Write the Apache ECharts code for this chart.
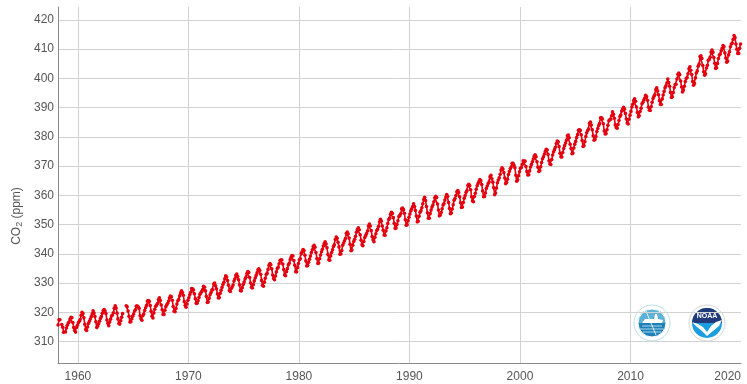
<!DOCTYPE html>
<html>
<head>
<meta charset="utf-8">
<script src="https://cdn.jsdelivr.net/npm/echarts@6/dist/echarts.min.js"></script>
<style>
  html, body { margin: 0; padding: 0; background: #fff; }
  #chart { width: 747px; height: 384px; }
</style>
</head>
<body>
<div id="chart"></div>
<script>
// Mauna Loa monthly mean CO2 (ppm), first value is March 1958; null = no data
const startYear = 1958;
const startMonth = 3;

const co2_1950s = [
  315.71, 317.45, 317.50, null, 315.86, 314.93, 313.20, null, 313.33, 314.67,
  315.62, 316.38, 316.71, 317.72, 318.29, 318.15, 316.54, 314.80, 313.84, 313.26, 314.80, 315.58
];
const co2_1960s = [
  316.43, 316.97, 317.58, 319.02, 320.03, 319.59, 318.18, 315.91, 314.16, 313.83, 315.00, 316.19,
  316.93, 317.70, 318.54, 319.48, 320.58, 319.77, 318.57, 316.79, 314.80, 315.38, 316.10, 317.01,
  317.94, 318.56, 319.68, 320.63, 321.01, 320.55, 319.58, 317.40, 316.26, 315.42, 316.69, 317.69,
  318.74, 319.08, 319.86, 321.39, 322.25, 321.47, 319.74, 317.77, 316.21, 315.99, 317.12, 318.31,
  319.57, null, null, null, 322.25, 321.89, 320.44, 318.70, 316.70, 316.79, 317.79, 318.71,
  319.44, 320.44, 320.89, 322.13, 322.16, 321.87, 321.39, 318.81, 317.81, 317.30, 318.87, 319.42,
  320.62, 321.59, 322.39, 323.87, 324.01, 323.75, 322.39, 320.37, 318.64, 318.10, 319.79, 321.08,
  322.07, 322.50, 323.04, 324.42, 325.00, 324.09, 322.55, 320.92, 319.31, 319.31, 320.72, 321.96,
  322.57, 323.15, 323.89, 325.02, 325.57, 325.36, 324.14, 322.03, 320.41, 320.25, 321.31, 322.84,
  324.00, 324.42, 325.64, 326.66, 327.34, 326.76, 325.88, 323.67, 322.38, 321.78, 322.85, 324.11
];
const co2_1970s = [
  325.03, 325.99, 326.87, 328.13, 328.07, 327.66, 326.35, 324.69, 323.10, 323.16, 323.98, 325.13,
  326.17, 326.68, 327.18, 327.78, 328.92, 328.57, 327.34, 325.46, 323.36, 323.57, 324.80, 326.01,
  326.77, 327.63, 327.75, 329.72, 330.07, 329.09, 328.05, 326.32, 324.93, 325.06, 326.50, 327.55,
  328.54, 329.56, 330.30, 331.50, 332.48, 332.07, 330.87, 329.31, 327.51, 327.18, 328.16, 328.64,
  329.35, 330.71, 331.48, 332.65, 333.09, 332.25, 331.18, 329.40, 327.43, 327.37, 328.46, 329.57,
  330.40, 331.40, 332.04, 333.31, 333.96, 333.59, 331.91, 330.06, 328.56, 328.34, 329.49, 330.76,
  331.75, 332.56, 333.50, 334.58, 334.87, 334.34, 333.05, 330.94, 329.30, 328.94, 330.31, 331.68,
  332.93, 333.42, 334.70, 336.07, 336.74, 336.27, 334.93, 332.75, 331.58, 331.16, 332.40, 333.85,
  334.97, 335.39, 336.64, 337.76, 338.01, 337.89, 336.54, 334.68, 332.76, 332.54, 333.92, 334.95,
  336.23, 336.76, 337.96, 338.89, 339.47, 339.29, 337.73, 336.09, 333.91, 333.86, 335.29, 336.73
];
const co2_1980s = [
  338.01, 338.36, 340.08, 340.77, 341.46, 341.17, 339.56, 337.60, 335.88, 336.01, 337.10, 338.21,
  339.24, 340.48, 341.38, 342.51, 342.91, 342.25, 340.49, 338.43, 336.69, 336.85, 338.36, 339.61,
  340.75, 341.61, 342.70, 343.56, 344.13, 343.35, 342.06, 339.82, 337.97, 337.86, 339.26, 340.49,
  341.38, 342.52, 343.10, 344.94, 345.75, 345.32, 343.99, 342.39, 339.86, 339.99, 341.16, 342.99,
  343.70, 344.50, 345.28, 347.06, 347.43, 346.80, 345.39, 343.28, 341.07, 341.35, 342.98, 344.22,
  344.97, 346.00, 347.43, 348.35, 348.93, 348.25, 346.56, 344.67, 343.09, 342.80, 344.24, 345.56,
  346.30, 346.95, 347.85, 349.55, 350.21, 349.55, 347.94, 345.91, 344.86, 344.17, 345.66, 346.90,
  348.02, 348.47, 349.42, 350.99, 351.84, 351.25, 349.52, 348.10, 346.44, 346.36, 347.81, 348.96,
  350.43, 351.72, 352.22, 353.59, 354.22, 353.79, 352.39, 350.44, 348.72, 348.88, 350.07, 351.34,
  352.76, 353.07, 353.68, 355.42, 355.67, 355.12, 353.90, 351.67, 349.80, 349.99, 351.30, 352.53
];
const co2_1990s = [
  353.66, 354.70, 355.39, 356.20, 357.16, 356.22, 354.82, 352.91, 350.96, 351.18, 352.83, 354.21,
  354.72, 355.75, 357.16, 358.60, 359.34, 358.24, 356.17, 354.03, 352.16, 352.21, 353.75, 354.99,
  355.99, 356.72, 357.81, 359.15, 359.66, 359.25, 357.02, 355.00, 353.01, 353.31, 354.16, 355.40,
  356.70, 357.17, 358.38, 359.46, 360.28, 359.60, 357.57, 355.52, 353.70, 353.98, 355.33, 356.80,
  358.36, 358.91, 359.97, 361.26, 361.68, 360.95, 359.55, 357.49, 355.84, 356.00, 357.59, 359.05,
  359.98, 361.03, 361.66, 363.48, 363.82, 363.30, 361.94, 359.50, 358.11, 357.80, 359.61, 360.74,
  362.09, 363.29, 364.06, 364.76, 365.45, 365.01, 363.70, 361.54, 359.51, 359.65, 360.80, 362.38,
  363.23, 364.06, 364.61, 366.40, 366.84, 365.68, 364.52, 362.57, 360.24, 360.83, 362.49, 364.34,
  365.27, 365.98, 367.24, 368.66, 369.42, 368.99, 367.82, 365.95, 364.02, 364.40, 365.52, 367.13,
  368.18, 369.07, 369.68, 370.99, 370.96, 370.30, 369.45, 366.90, 364.81, 365.37, 366.72, 368.10
];
const co2_2000s = [
  369.29, 369.54, 370.60, 371.82, 371.58, 371.70, 369.86, 368.13, 367.00, 367.03, 368.37, 369.67,
  370.59, 371.51, 372.43, 373.37, 373.85, 373.21, 371.51, 369.61, 368.18, 368.45, 369.76, 371.24,
  372.53, 373.20, 374.12, 375.02, 375.76, 375.52, 374.01, 371.85, 370.75, 370.55, 372.25, 373.79,
  374.88, 375.64, 376.45, 377.73, 378.60, 378.28, 376.70, 374.38, 373.17, 373.14, 374.66, 375.99,
  377.00, 377.87, 378.88, 380.35, 380.62, 379.69, 377.47, 376.01, 374.25, 374.46, 376.16, 377.51,
  378.46, 379.73, 380.77, 382.29, 382.45, 382.21, 380.74, 378.74, 376.70, 377.00, 378.35, 380.11,
  381.38, 382.19, 382.67, 384.61, 385.03, 384.05, 382.46, 380.41, 378.85, 379.13, 380.15, 381.82,
  382.89, 383.90, 384.58, 386.50, 386.56, 386.10, 384.50, 381.99, 380.96, 381.12, 382.45, 383.95,
  385.52, 385.82, 386.03, 387.21, 388.54, 387.76, 386.36, 384.09, 383.18, 382.99, 384.19, 385.56,
  386.94, 387.48, 388.82, 389.55, 390.14, 389.48, 388.03, 386.11, 384.74, 384.43, 386.02, 387.42
];
const co2_2010s = [
  388.71, 390.20, 391.17, 392.46, 393.00, 392.15, 390.20, 388.35, 386.85, 387.24, 388.67, 389.79,
  391.33, 391.86, 392.60, 393.25, 394.19, 393.74, 392.51, 390.13, 389.08, 389.00, 390.28, 391.86,
  393.12, 393.86, 394.40, 396.18, 396.74, 395.71, 394.36, 392.39, 391.11, 391.05, 392.98, 394.34,
  395.55, 396.80, 397.43, 398.41, 399.78, 398.60, 397.32, 395.20, 393.45, 393.70, 395.16, 396.84,
  397.85, 398.01, 399.77, 401.38, 401.78, 401.25, 399.10, 397.03, 395.38, 396.03, 397.28, 398.91,
  399.98, 400.28, 401.54, 403.28, 403.96, 402.80, 401.31, 398.93, 397.63, 398.29, 400.16, 401.85,
  402.56, 404.12, 404.87, 407.45, 407.72, 406.83, 404.41, 402.27, 401.05, 401.59, 403.55, 404.45,
  406.17, 406.46, 407.22, 409.04, 409.69, 408.88, 407.12, 405.13, 403.37, 403.63, 405.12, 406.81,
  407.96, 408.32, 409.41, 410.24, 411.24, 410.79, 408.71, 406.99, 405.51, 405.95, 408.02, 409.07,
  410.83, 411.75, 411.97, 413.32, 414.66, 413.92, 411.77, 409.95, 408.54, 408.53, 410.27, 411.76
];

const monthly = [].concat(co2_1950s, co2_1960s, co2_1970s, co2_1980s, co2_1990s, co2_2000s, co2_2010s);

// decimal date at mid-month
const seriesData = monthly.map((v, i) => {
  const m = startMonth - 1 + i;
  const t = startYear + Math.floor(m / 12) + ((m % 12) + 0.5) / 12;
  return [t, v];
});

const chart = echarts.init(document.getElementById("chart"));

const gridColor = "#d2d2d2";
const labelColor = "#555";
const font = "Liberation Sans, Arial, sans-serif";

chart.setOption({
  animation: false,
  backgroundColor: "#fff",
  grid: { left: 58, right: 6, top: 7, bottom: 21, containLabel: false, outerBoundsMode: "none" },
  xAxis: {
    type: "value",
    min: 1958.2,
    max: 2020,
    splitNumber: 6,
    axisLine: { show: true, lineStyle: { color: "#8a8a8a", width: 1 } },
    axisTick: { show: false },
    axisLabel: {
      color: labelColor,
      fontFamily: font,
      fontSize: 12,
      margin: 8,
      showMinLabel: false,
      alignMaxLabel: "right",
      formatter: (v) => String(Math.round(v)),
    },
    splitLine: { show: true, showMinLine: false, showMaxLine: false, lineStyle: { color: gridColor, width: 1 } },
  },
  yAxis: {
    type: "value",
    min: 302.7,
    max: 424.4,
    splitNumber: 12,
    axisLine: { show: true, lineStyle: { color: "#8a8a8a", width: 1 } },
    axisTick: { show: false },
    axisLabel: {
      color: labelColor,
      fontFamily: font,
      fontSize: 12,
      margin: 4,
      showMinLabel: false,
      showMaxLabel: false,
    },
    splitLine: { show: true, showMinLine: false, showMaxLine: false, lineStyle: { color: gridColor, width: 1 } },
  },
  series: [
    {
      name: "CO2",
      type: "line",
      data: seriesData,
      connectNulls: false,
      showSymbol: true,
      symbol: "circle",
      symbolSize: 3.6,
      itemStyle: { color: "#e3000f" },
      lineStyle: { color: "#e3000f", width: 1.6 },
      z: 3,
    },
  ],
  graphic: [
    {
      type: "text",
      x: 17,
      y: 216,
      rotation: Math.PI / 2,
      style: {
        text: "CO{sub|2} (ppm)",
        fill: labelColor,
        font: "12px " + font,
        align: "center",
        verticalAlign: "middle",
        rich: {
          sub: { fontSize: 9, fill: labelColor, fontFamily: font, padding: [6, 0, 0, 0] },
        },
      },
    },
    // left logo (research vessel emblem)
    {
      type: "group",
      x: 652,
      y: 323,
      z: 10,
      children: [
        { type: "circle", shape: { cx: 0, cy: 0, r: 18 }, style: { fill: "#fff", stroke: "#bcdfe8", lineWidth: 1 } },
        { type: "circle", shape: { cx: 0, cy: 0, r: 14 }, style: { fill: "#1f80b8" } },
        { type: "sector", shape: { cx: 0, cy: 0, r: 14, startAngle: Math.PI, endAngle: Math.PI * 2 }, style: { fill: "#5eb2d8" } },
        { type: "polygon", shape: { points: [[-10, 0], [-7, -4], [2, -4], [3, -9], [5, -9], [6, -4], [11, -3], [10, 0]] }, style: { fill: "#fff" } },
        { type: "line", shape: { x1: -10, y1: 3, x2: 10, y2: 3 }, style: { stroke: "#a6d6ec", lineWidth: 1 } },
        { type: "line", shape: { x1: -12, y1: 6, x2: 12, y2: 6 }, style: { stroke: "#a6d6ec", lineWidth: 1 } },
        { type: "line", shape: { x1: -9, y1: 9, x2: 9, y2: 9 }, style: { stroke: "#a6d6ec", lineWidth: 1 } },
        { type: "line", shape: { x1: -6, y1: -12, x2: 4, y2: 12 }, style: { stroke: "#ffffff", lineWidth: 0.8 } },
        { type: "circle", shape: { cx: 0, cy: 0, r: 14 }, style: { fill: "none", stroke: "#fff", lineWidth: 1 } },
      ],
    },
    // right logo (NOAA emblem)
    {
      type: "group",
      x: 707,
      y: 323,
      z: 10,
      children: [
        { type: "circle", shape: { cx: 0, cy: 0, r: 18 }, style: { fill: "#fff", stroke: "#d6d6d6", lineWidth: 1 } },
        { type: "circle", shape: { cx: 0, cy: 0, r: 15 }, style: { fill: "#1a9ee0" } },
        { type: "sector", shape: { cx: 0, cy: 0, r: 15, startAngle: Math.PI, endAngle: Math.PI * 2 }, style: { fill: "#223a7a" } },
        {
          type: "polygon",
          shape: { points: [[-15, -1], [-9, 1], [-4, 4], [0, 9], [4, 3], [9, -1], [15, -3], [12, 3], [6, 8], [0, 13], [-5, 8], [-10, 4]] },
          style: { fill: "#fff" },
        },
        { type: "text", x: 0, y: -7, style: { text: "NOAA", fill: "#fff", font: "bold 7px " + font, align: "center", verticalAlign: "middle" } },
      ],
    },
  ],
});
</script>
</body>
</html>
